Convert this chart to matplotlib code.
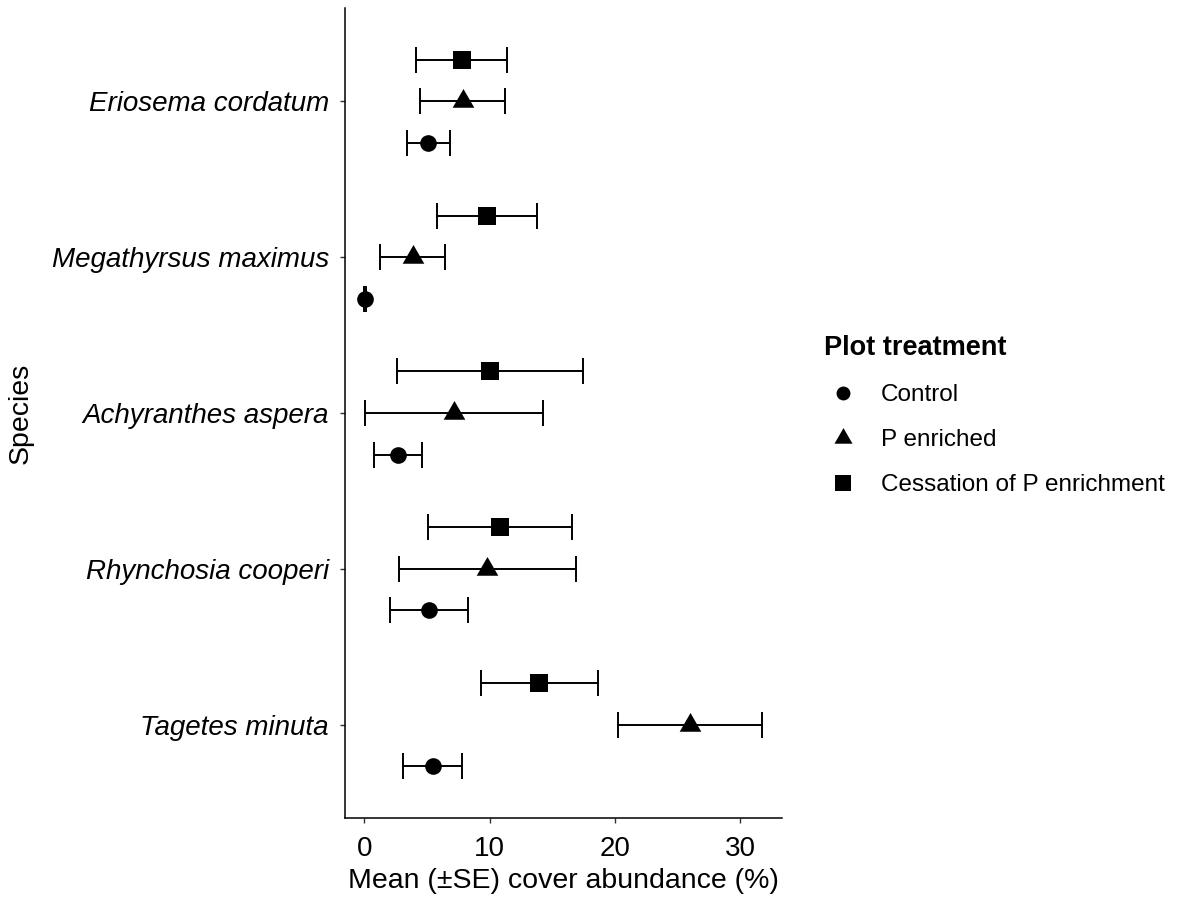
import numpy as np
import matplotlib
matplotlib.use("Agg")
import matplotlib.pyplot as plt
from matplotlib.lines import Line2D

plt.rcParams["font.family"] = ["Liberation Sans", "DejaVu Sans"]

species = ["Eriosema cordatum", "Megathyrsus maximus", "Achyranthes aspera",
           "Rhynchosia cooperi", "Tagetes minuta"]
treatments = ["Control", "P enriched", "Cessation of P enrichment"]

# mean cover (%) and SE per species, in the order of `species`
control_mean = [5.1, 0.05, 2.68, 5.14, 5.45]
control_se = [1.73, 0.05, 1.88, 3.09, 2.35]
penriched_mean = [7.85, 3.85, 7.15, 9.82, 25.95]
penriched_se = [3.4, 2.58, 7.1, 7.03, 5.75]
cessation_mean = [7.75, 9.8, 10.05, 10.8, 13.97]
cessation_se = [3.63, 3.97, 7.43, 5.75, 4.68]

# equilateral triangle centred on its centroid (ggplot shape 17)
TRI = [(-0.5, -0.2887), (0.5, -0.2887), (0.0, 0.5774), (-0.5, -0.2887)]

series = [
    (control_mean, control_se, "o", 12.0, -0.267),
    (penriched_mean, penriched_se, TRI, 18.0, 0.0),
    (cessation_mean, cessation_se, "s", 13.0, 0.267),
]

fig = plt.figure(figsize=(11.79, 9.01), dpi=100)
ax = fig.add_axes([345 / 1179, 83 / 901, (781.7 - 345) / 1179, (818 - 8) / 901])

ypos = np.arange(len(species))[::-1] + 1.0
for mean, se, mk, ms, off in series:
    ax.errorbar(mean, ypos + off, xerr=se, fmt="none", ecolor="black",
                elinewidth=1.4, capsize=9.7, capthick=1.4, zorder=2)
    ax.plot(mean, ypos + off, linestyle="none", marker=mk, markersize=ms,
            color="black", markeredgewidth=0, zorder=3)

ax.set_xlim(-1.55, 33.3)
ax.set_ylim(0.4, 5.6)
ax.set_xticks([0, 10, 20, 30])
ax.set_yticks(ypos)
ax.set_yticklabels(species, fontstyle="italic")

for s in ("top", "right"):
    ax.spines[s].set_visible(False)
for s in ("left", "bottom"):
    ax.spines[s].set_color("black")
    ax.spines[s].set_linewidth(1.1)
ax.tick_params(axis="both", length=3.6, width=1.0, color="#333333",
               labelsize=20, labelcolor="black")
ax.tick_params(axis="x", pad=9)
ax.tick_params(axis="y", pad=8)

ax.set_xlabel("Mean (\u00b1SE) cover abundance (%)", fontsize=20.5, labelpad=5)
ax.set_ylabel("Species", fontsize=20.5, labelpad=13)

handles = [
    Line2D([], [], linestyle="none", marker="o", markersize=10, color="black", markeredgewidth=0),
    Line2D([], [], linestyle="none", marker=TRI, markersize=15, color="black", markeredgewidth=0),
    Line2D([], [], linestyle="none", marker="s", markersize=11, color="black", markeredgewidth=0),
]
leg = fig.legend(handles, treatments, loc="upper left",
                 bbox_to_anchor=(824 / 1179, 1 - 335 / 901), frameon=False,
                 borderpad=0, borderaxespad=0,
                 title="Plot treatment", alignment="left",
                 fontsize=17.5, title_fontproperties={"weight": "bold", "size": 19.5},
                 handlelength=1.55, handletextpad=0.78, labelspacing=0.95)

fig.savefig("out.png", dpi=100)
